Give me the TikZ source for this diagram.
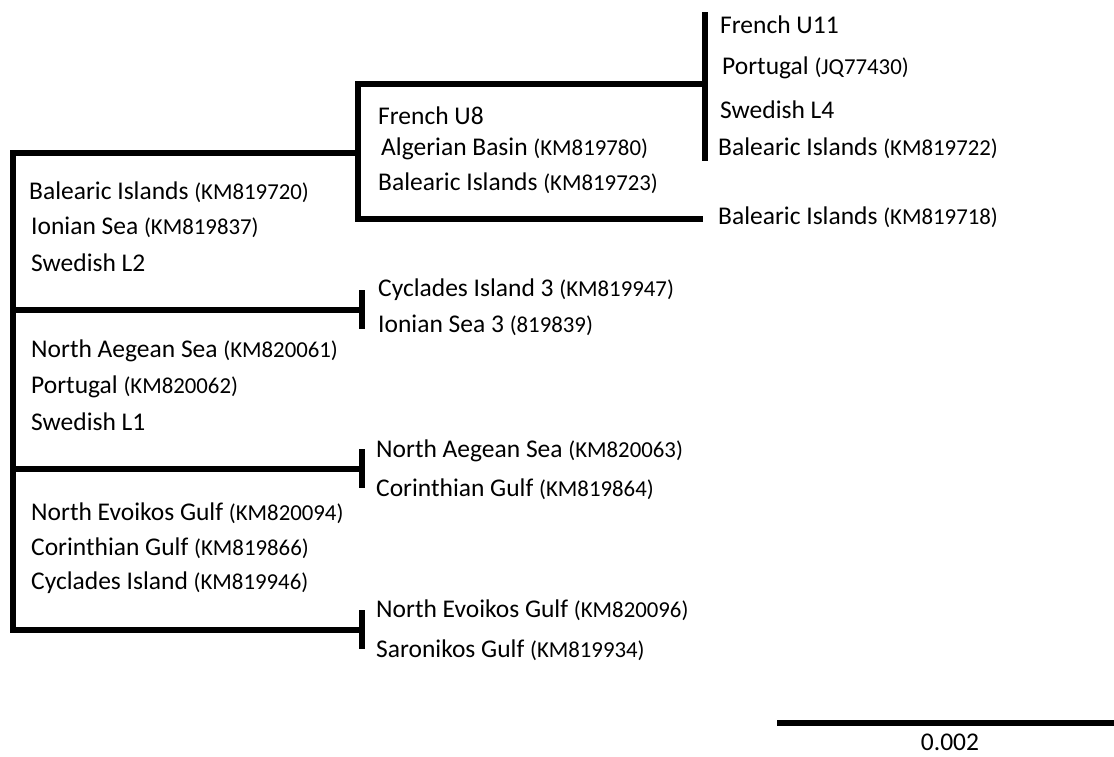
\documentclass[tikz,border=0pt]{standalone}
\usepackage{fontspec}
\setmainfont{Carlito}
\newcommand\cdsz{\fontsize{22.8}{22.8}\selectfont}
\begin{document}
\begin{tikzpicture}[x=1pt,y=-1pt,
  br/.style={line width=6.5pt,line join=miter,line cap=butt},
  lab/.style={anchor=west,inner sep=0pt,font=\fontsize{25.5}{25.5}\selectfont}]
\useasboundingbox (0,0) rectangle (1114,756);
% tree points
\coordinate (r1) at (13,153);
\coordinate (r4) at (13,630);
\coordinate (a1) at (358,153);
\coordinate (a2) at (358,84);
\coordinate (a3) at (358,219);
\coordinate (b1) at (705,84);
\coordinate (b2) at (705,12);
\coordinate (b3) at (705,161);
\coordinate (c1) at (703,219);
\coordinate (r2) at (13,310);
\coordinate (r3) at (13,469);
\coordinate (t1) at (362,310);
\coordinate (t1a) at (362,290);
\coordinate (t1b) at (362,329);
\coordinate (t2) at (362,469);
\coordinate (t2a) at (362,449);
\coordinate (t2b) at (362,488);
\coordinate (t3) at (362,630);
\coordinate (t3a) at (362,610);
\coordinate (t3b) at (362,649);
\coordinate (s1) at (777,723);
\coordinate (s2) at (1114,723);
% branches
\draw[br] (a1) -- (r1) -- (r4) -- (t3);
\draw[br] (b1) -- (a2) -- (a3) -- (c1);
\draw[br] (b2) -- (b3);
\draw[br] (r2) -- (t1);
\draw[br] (r3) -- (t2);
\draw[br] (t1a) -- (t1b);
\draw[br] (t2a) -- (t2b);
\draw[br] (t3a) -- (t3b);
\draw[line width=5.5pt] (s1) -- (s2);
% labels
\node[lab] (l1) at (720,25) {French U11};
\node[lab] (l2) at (722,68) {Portugal {\cdsz(JQ77430)}};
\node[lab] (l3) at (720,110) {Swedish L4};
\node[lab] (l4) at (718,148) {Balearic Islands {\cdsz(KM819722)}};
\node[lab] (l5) at (718,217) {Balearic Islands {\cdsz(KM819718)}};
\node[lab] (l6) at (378,116) {French U8};
\node[lab] (l7) at (381,149) {Algerian Basin {\cdsz(KM819780)}};
\node[lab] (l8) at (378,183) {Balearic Islands {\cdsz(KM819723)}};
\node[lab] (l9) at (29,192) {Balearic Islands {\cdsz(KM819720)}};
\node[lab] (l10) at (31,227) {Ionian Sea {\cdsz(KM819837)}};
\node[lab] (l11) at (31,263) {Swedish L2};
\node[lab] (l12) at (378,290) {Cyclades Island 3 {\cdsz(KM819947)}};
\node[lab] (l13) at (378,325) {Ionian Sea 3 {\cdsz(819839)}};
\node[lab] (l14) at (31,351) {North Aegean Sea {\cdsz(KM820061)}};
\node[lab] (l15) at (31,387) {Portugal {\cdsz(KM820062)}};
\node[lab] (l16) at (31,422) {Swedish L1};
\node[lab] (l17) at (376,451) {North Aegean Sea {\cdsz(KM820063)}};
\node[lab] (l18) at (376,489) {Corinthian Gulf {\cdsz(KM819864)}};
\node[lab] (l19) at (31,513) {North Evoikos Gulf {\cdsz(KM820094)}};
\node[lab] (l20) at (31,548) {Corinthian Gulf {\cdsz(KM819866)}};
\node[lab] (l21) at (31,583) {Cyclades Island {\cdsz(KM819946)}};
\node[lab] (l22) at (376,610) {North Evoikos Gulf {\cdsz(KM820096)}};
\node[lab] (l23) at (376,650) {Saronikos Gulf {\cdsz(KM819934)}};
\node[lab,anchor=base] (sc) at (950,750) {0.002};
\end{tikzpicture}
\end{document}
